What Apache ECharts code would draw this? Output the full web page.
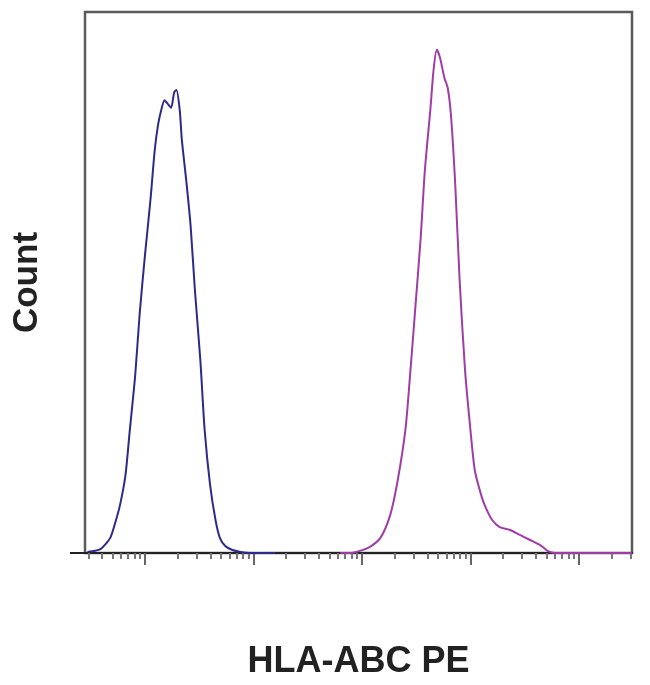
<!DOCTYPE html>
<html>
<head>
<meta charset="utf-8">
<script src="https://cdn.jsdelivr.net/npm/echarts@6/dist/echarts.min.js"></script>
<style>html,body{margin:0;padding:0;background:#fff}#c{width:650px;height:685px}</style>
</head>
<body>
<div id="c"></div>
<script>
// x values are log10 of fluorescence intensity; y values are counts (% of max scale)
const blueX = [0.47,0.54,0.59,0.63,0.68,0.72,0.77,0.82,0.86,0.91,0.95,1.00,1.05,1.09,1.12,1.15,1.18,1.21,1.24,1.27,1.29,1.32,1.34,1.38,1.42,1.46,1.51,1.55,1.60,1.65,1.69,1.74,1.80,1.88,1.97,2.20];
const blueY = [0.2,0.4,0.7,1.5,2.8,5.2,8.9,14.4,22.7,32.9,44.0,55.1,65.2,74.5,79.1,81.9,83.7,83.0,82.3,85.2,85.6,81.9,76.3,68.9,60.6,48.6,35.7,22.7,12.6,6.1,2.8,1.3,0.6,0.2,0,0];
const magX = [2.80,2.89,2.98,3.07,3.17,3.26,3.33,3.40,3.44,3.49,3.54,3.58,3.63,3.66,3.69,3.72,3.76,3.79,3.82,3.86,3.90,3.95,4.00,4.04,4.09,4.13,4.20,4.27,4.36,4.46,4.55,4.64,4.71,4.78,5.10,5.49];
const magY = [0,0,0.4,1.1,2.8,7.0,13.5,22.7,32.0,44.9,57.9,70.8,81.9,89.3,93.0,91.5,87.8,86.0,81.0,68.0,50.5,33.8,22.7,15.3,11.3,8.9,6.1,4.8,4.3,3.3,2.4,1.5,0.4,0,0,0];
const majorTicks = [1,2,3,4,5];
const minorMultipliers = [2,3,4,5,6,7,8,9];
const xMin = 0.447, xMax = 5.489;
const xTitle = 'HLA-ABC PE';
const yTitle = 'Count';

const minorTicks = [];
for (let d = -1; d <= 5; d++) {
  minorMultipliers.forEach(m => {
    const v = d + Math.log10(m);
    if (v > xMin && v < xMax) minorTicks.push(v);
  });
}
const zip = (xs, ys) => xs.map((x, i) => [x, ys[i]]);

const chart = echarts.init(document.getElementById('c'));
chart.setOption({
  animation: false,
  grid: {left: 85, right: 18, top: 12, bottom: 132, show: true, borderColor: '#5a5a5a', borderWidth: 2.5, backgroundColor: 'transparent'},
  xAxis: [
    {type: 'value', min: xMin, max: xMax, position: 'bottom',
     axisLine: {show: true, lineStyle: {color: '#222', width: 2}},
     axisTick: {show: true, customValues: minorTicks, length: 6, lineStyle: {color: '#777', width: 2}},
     axisLabel: {show: false}, splitLine: {show: false},
     name: xTitle, nameLocation: 'middle', nameGap: 91,
     nameTextStyle: {fontFamily: 'Liberation Sans', fontWeight: 'bold', fontSize: 36, color: '#222'}},
    {type: 'value', min: xMin, max: xMax, position: 'bottom', offset: 0,
     axisLine: {show: false},
     axisTick: {show: true, customValues: majorTicks, length: 12, lineStyle: {color: '#666', width: 2}},
     axisLabel: {show: false}, splitLine: {show: false}}
  ],
  yAxis: {type: 'value', min: 0, max: 100,
    axisLine: {show: false}, axisTick: {show: false}, axisLabel: {show: false}, splitLine: {show: false},
    name: yTitle, nameLocation: 'middle', nameGap: 40, nameRotate: 90,
    nameTextStyle: {fontFamily: 'Liberation Sans', fontWeight: 'bold', fontSize: 35, color: '#222'}},
  graphic: [{type: 'line', shape: {x1: 70, y1: 553, x2: 86, y2: 553}, style: {stroke: '#222', lineWidth: 2}}],
  series: [
    {type: 'line', data: zip(blueX, blueY), showSymbol: false, smooth: 0.25,
     lineStyle: {color: '#2e2a8c', width: 2}, z: 3},
    {type: 'line', data: zip(magX, magY), showSymbol: false, smooth: 0.25,
     lineStyle: {color: '#a03ca8', width: 2}, z: 3}
  ]
});
</script>
</body>
</html>
